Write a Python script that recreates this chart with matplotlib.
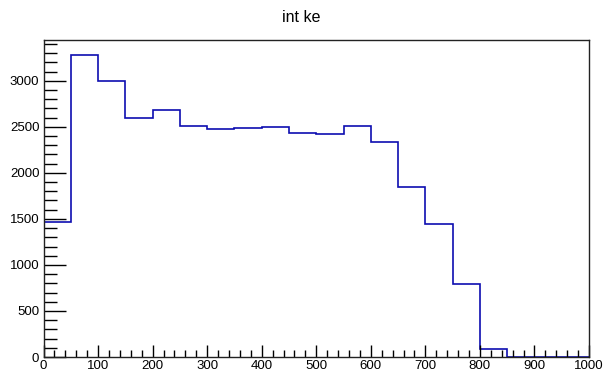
import matplotlib.pyplot as plt
import numpy as np
from matplotlib.ticker import MultipleLocator

# histogram "int ke": 20 bins of width 50 from 0 to 1000
edges = np.arange(0, 1001, 50)
counts = [1470, 3279, 3000, 2597, 2680, 2513, 2473, 2484, 2495, 2430,
          2419, 2513, 2333, 1842, 1444, 794, 92, 0, 0, 0]

plt.rcParams['font.family'] = ['Liberation Sans', 'DejaVu Sans']

fig = plt.figure(figsize=(6.03, 3.76), dpi=100)
ax = fig.add_axes([43.5/603, 1-357/376, (589-43.5)/603, (357-40)/376])

ax.stairs(counts, edges, color='#0d0db0', lw=1.2)

ax.set_xlim(0, 1000)
ax.set_ylim(0, 1.05*max(counts))
ax.xaxis.set_major_locator(MultipleLocator(100))
ax.xaxis.set_minor_locator(MultipleLocator(20))
ax.yaxis.set_major_locator(MultipleLocator(500))
ax.yaxis.set_minor_locator(MultipleLocator(100))
ax.tick_params(axis='x', which='major', direction='in', length=9, width=1, labelsize=9.5, pad=2)
ax.tick_params(axis='x', which='minor', direction='in', length=5, width=1)
ax.tick_params(axis='y', which='major', direction='in', length=16, width=1, labelsize=9.5, pad=3)
ax.tick_params(axis='y', which='minor', direction='in', length=9, width=1)
for s in ax.spines.values():
    s.set_linewidth(1)
    s.set_color('#222222')

fig.text(0.5, 1-18/376, 'int ke', ha='center', va='center', fontsize=11.5)

fig.savefig('out.png', dpi=100)
